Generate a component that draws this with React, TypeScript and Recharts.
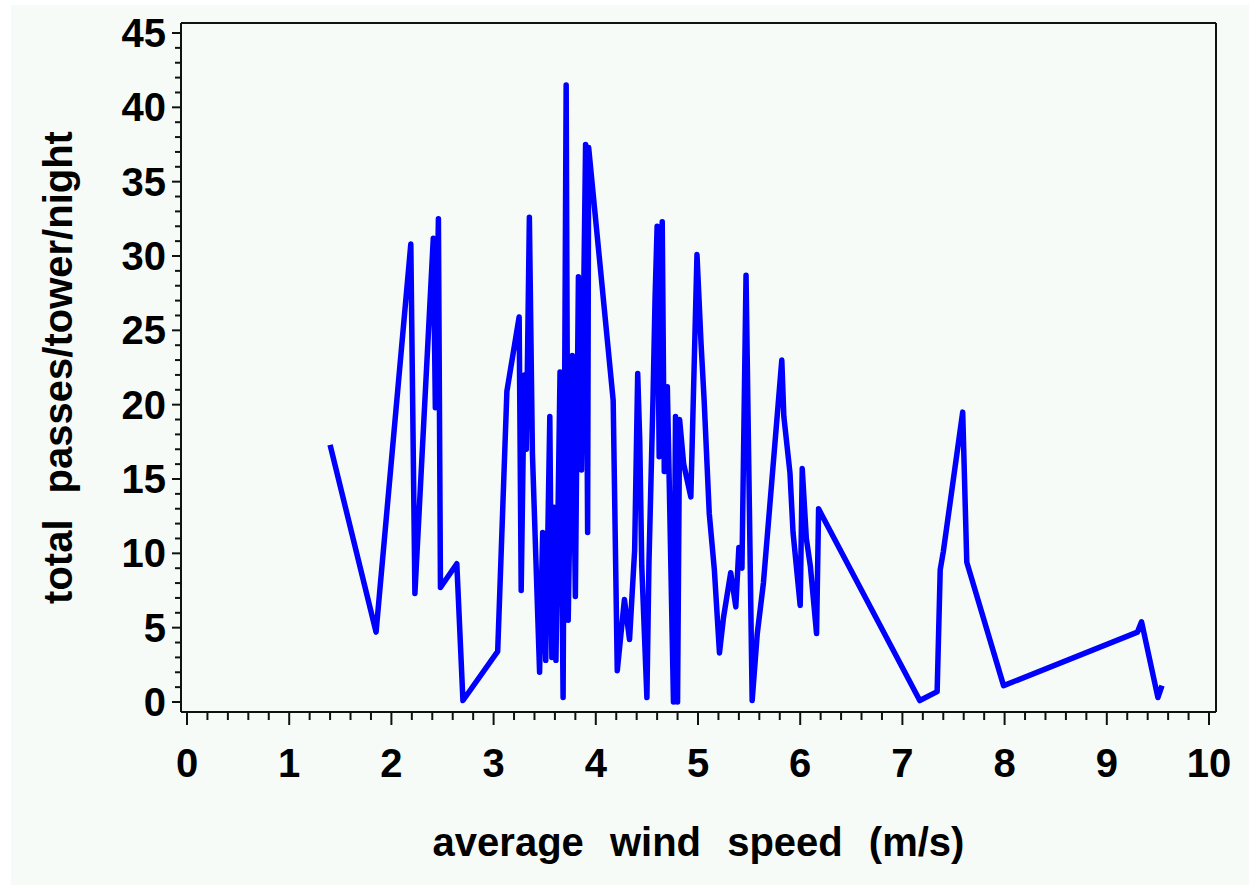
import { Label, Line, LineChart, XAxis, YAxis } from "recharts"

// average wind speed (m/s), in plotted order
const windSpeed = [
  1.4, 1.85, 2.19, 2.23, 2.41, 2.43, 2.46, 2.48, 2.64, 2.7,
  3.04, 3.13, 3.25, 3.27, 3.3, 3.32, 3.35, 3.38, 3.45, 3.48,
  3.51, 3.55, 3.57, 3.59, 3.61, 3.65, 3.68, 3.71, 3.73, 3.77,
  3.8, 3.83, 3.86, 3.9, 3.92, 3.93, 4.17, 4.21, 4.28, 4.33,
  4.38, 4.41, 4.43, 4.45, 4.5, 4.52, 4.56, 4.58, 4.6, 4.62,
  4.65, 4.67, 4.7, 4.72, 4.76, 4.78, 4.8, 4.82, 4.86, 4.93,
  4.99, 5.03, 5.06, 5.11, 5.16, 5.21, 5.25, 5.32, 5.37, 5.4,
  5.43, 5.47, 5.53, 5.58, 5.64, 5.82, 5.84, 5.9, 5.93, 6.0,
  6.02, 6.06, 6.1, 6.16, 6.18, 6.21, 7.17, 7.34, 7.37, 7.4,
  7.59, 7.63, 7.99, 9.3, 9.34, 9.5, 9.54,
]

// total passes/tower/night
const passes = [
  17.3, 4.7, 30.8, 7.3, 31.2, 19.8, 32.5, 7.7, 9.3, 0.1,
  3.4, 20.9, 25.9, 7.5, 22.0, 17.0, 32.6, 16.7, 2.0, 11.4,
  2.8, 19.2, 3.0, 13.1, 2.8, 22.2, 0.3, 41.5, 5.5, 23.3,
  7.1, 28.6, 15.6, 37.5, 11.4, 37.3, 20.3, 2.1, 6.9, 4.2,
  10.2, 22.1, 17.6, 9.1, 0.3, 9.3, 20.5, 27.2, 32.0, 16.5,
  32.3, 15.5, 21.2, 14.3, 0.0, 19.2, 0.0, 19.0, 16.0, 13.8,
  30.1, 24.1, 20.3, 12.7, 8.9, 3.3, 5.7, 8.7, 6.4, 10.4,
  9.0, 28.7, 0.1, 4.6, 8.0, 23.0, 19.2, 15.4, 11.4, 6.5,
  15.7, 11.0, 9.1, 4.6, 13.0, 12.6, 0.1, 0.7, 8.9, 10.1,
  19.5, 9.4, 1.1, 4.7, 5.4, 0.3, 1.1,
]

const xTicks = Array.from({ length: 51 }, (_, i) => Math.round(i * 2) / 10)
const yTicks = Array.from({ length: 46 }, (_, i) => i)

const data = windSpeed.map((x, i) => ({ x, y: passes[i] }))

const font = "'Liberation Sans', Arial, sans-serif"

function XTick(props: any) {
  const { x, y, payload } = props
  const v = payload.value
  const major = Math.abs(v - Math.round(v)) < 1e-6
  return (
    <g>
      <line x1={x} y1={y} x2={x} y2={y + (major ? 13 : 8)} stroke="#111" strokeWidth={2} />
      {major && (
        <text x={x} y={y + 65} textAnchor="middle" fontFamily={font} fontWeight="bold" fontSize={40} fill="#000">
          {Math.round(v)}
        </text>
      )}
    </g>
  )
}

function YTick(props: any) {
  const { x, y, payload } = props
  const v = payload.value
  const major = v % 5 === 0
  return (
    <g>
      <line x1={x} y1={y} x2={x - (major ? 9 : 6)} y2={y} stroke="#111" strokeWidth={2} />
      {major && (
        <text x={x - 15} y={y + 14} textAnchor="end" fontFamily={font} fontWeight="bold" fontSize={40} fill="#000">
          {v}
        </text>
      )}
    </g>
  )
}

export default function App() {
  return (
    <div style={{ position: "absolute", left: 0, top: 0, width: 1257, height: 890, background: "#fff" }}>
      <div style={{ position: "absolute", left: 11, top: 5, width: 1238, height: 880, background: "#f6fbf8" }} />
      <div style={{ position: "absolute", left: 0, top: 0 }}>
        <LineChart width={1257} height={890} data={data} margin={{ top: 22, right: 40, bottom: 28, left: 0 }}>
          <XAxis
            dataKey="x"
            type="number"
            domain={[0, 10]}
            ticks={xTicks}
            interval={0}
            height={150}
            padding={{ left: 6, right: 7 }}
            tickSize={0}
            tickMargin={0}
            tickLine={false}
            tick={<XTick />}
            axisLine={{ stroke: "#111", strokeWidth: 2 }}
          >
            <Label
              value="average wind speed (m/s)"
              position="insideBottom"
              offset={6}
              style={{ fontFamily: font, fontWeight: "bold", fontSize: 40, fill: "#000", wordSpacing: 15 }}
            />
          </XAxis>
          <XAxis
            xAxisId="top"
            orientation="top"
            dataKey="x"
            type="number"
            domain={[0, 10]}
            height={1}
            tick={false}
            tickLine={false}
            axisLine={{ stroke: "#111", strokeWidth: 2 }}
          />
          <YAxis
            type="number"
            domain={[0, 45]}
            ticks={yTicks}
            interval={0}
            width={181}
            padding={{ top: 10, bottom: 10 }}
            tickSize={0}
            tickMargin={0}
            tickLine={false}
            tick={<YTick />}
            axisLine={{ stroke: "#111", strokeWidth: 2 }}
          >
            <Label
              value="total passes/tower/night"
              angle={-90}
              position="insideLeft"
              offset={58}
              style={{ textAnchor: "middle", fontFamily: font, fontWeight: "bold", fontSize: 40, fill: "#000", wordSpacing: 15 }}
            />
          </YAxis>
          <YAxis
            yAxisId="right"
            orientation="right"
            type="number"
            domain={[0, 45]}
            width={1}
            tick={false}
            tickLine={false}
            axisLine={{ stroke: "#111", strokeWidth: 2 }}
          />
          <Line
            type="linear"
            dataKey="y"
            stroke="#0000ff"
            strokeWidth={5.5}
            strokeLinejoin="round"
            dot={false}
            activeDot={false}
            isAnimationActive={false}
          />
        </LineChart>
      </div>
    </div>
  )
}
